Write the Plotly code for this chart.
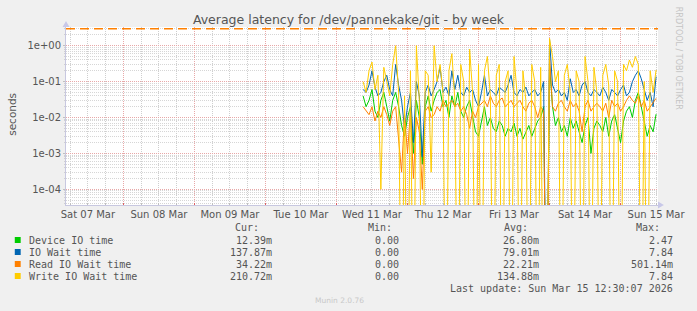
import plotly.graph_objects as go
import pandas as pd

# ---------------- data ----------------
start_time = "2026-03-11 09:00"          # first sample (hourly)
device_io = [0.04, 0.02, 0.03, 0.06, 0.015, 0.01, 0.03, 0.05, 0.02, 0.008,
             0.03, 0.05, 0.02, 0.006, 0.003, 0.01, 0.02, 0.001, 0.03, 0.01,
             0.0005, 0.02, 0.04, 0.015, 0.03, 0.05, 0.06, 0.02, 0.03, 0.01,
             0.04, 0.02, 0.05, 0.015, 0.01, 0.02, 0.03, 0.01, 0.004, 0.003,
             0.008, 0.02, 0.006, 0.01, 0.005, 0.004, 0.008, 0.006, 0.003, 0.005,
             0.004, 0.007, 0.003, 0.005, 0.0025, 0.004, 0.006, 0.003, 0.005, 0.008,
             0.01, 0.02, 0.0, 0.3, 0.02, 0.006, 0.01, 0.004, 0.006, 0.003,
             0.01, 0.005, 0.008, 0.004, 0.002, 0.006, 0.01, 0.001, 0.005, 0.008,
             0.006, 0.004, 0.01, 0.003, 0.008, 0.012, 0.005, 0.002, 0.008, 0.015,
             0.02, 0.01, 0.03, 0.05, 0.02, 0.008, 0.003, 0.006, 0.004, 0.0124]
io_wait = [0.06, 0.05, 0.08, 0.2, 0.07, 0.04, 0.05, 0.1, 0.15, 0.06,
           0.04, 0.3, 0.08, 0.03, 0.005, 0.02, 0.05, 0.002, 0.1, 0.04,
           0.0008, 0.05, 0.08, 0.04, 0.06, 0.1, 0.25, 0.05, 0.07, 0.04,
           0.2, 0.06, 0.15, 0.05, 0.04, 0.07, 0.05, 0.06, 0.03, 0.02,
           0.05, 0.15, 0.04, 0.06, 0.05, 0.04, 0.07, 0.06, 0.05, 0.08,
           0.15, 0.05, 0.04, 0.06, 0.05, 0.07, 0.04, 0.05, 0.06, 0.04,
           0.05, 0.1, 0.0, 1.5, 0.08, 0.05, 0.06, 0.04, 0.05, 0.03,
           0.12, 0.05, 0.06, 0.04, 0.08, 0.1, 0.05, 0.04, 0.06, 0.05,
           0.04, 0.07, 0.05, 0.03, 0.06, 0.05, 0.04, 0.06, 0.08, 0.04,
           0.05, 0.1, 0.15, 0.2, 0.12, 0.06, 0.03, 0.05, 0.02, 0.138]
read_io = [0.02, 0.015, 0.012, 0.02, 0.008, 0.015, 0.01, 0.02, 0.012, 0.006,
           0.015, 0.02, 0.002, 0.0003, 0.012, 0.001, 0.015, 0.0002, 0.01, 0.004,
           0.0001, 0.015, 0.02, 0.01, 0.012, 0.02, 0.015, 0.03, 0.02, 0.025,
           0.03, 0.02, 0.025, 0.015, 0.02, 0.012, 0.005, 0.015, 0.01, 0.02,
           0.025, 0.03, 0.02, 0.04, 0.025, 0.02, 0.03, 0.035, 0.02, 0.025,
           0.03, 0.02, 0.025, 0.03, 0.02, 0.015, 0.025, 0.03, 0.02, 0.01,
           0.02, 0.015, 0.0, 0.5, 0.02, 0.015, 0.025, 0.03, 0.02, 0.015,
           0.03, 0.02, 0.025, 0.015, 0.004, 0.02, 0.03, 0.015, 0.02, 0.025,
           0.02, 0.015, 0.025, 0.01, 0.03, 0.02, 0.025, 0.015, 0.02, 0.03,
           0.04, 0.03, 0.025, 0.04, 0.02, 0.03, 0.015, 0.02, 0.025, 0.0342]
write_io = [0.1, 0.05, 0.2, 0.35, 0.06, 0.15, 0.0001, 0.25, 0.1, 0.04,
            0.3, 1.0, 0.05, 0.0, 0.04, 0.0, 0.2, 0.0, 1.0, 0.03,
            0.0, 0.2, 0.15, 0.0003, 1.0, 0.1, 0.3, 0.05, 0.0, 0.2,
            0.6, 0.03, 0.0, 0.3, 0.1, 0.0, 0.8, 0.05, 0.0, 0.3,
            0.0, 0.2, 0.5, 0.04, 0.0, 0.15, 0.3, 0.0, 0.1, 0.2,
            0.0, 0.5, 0.05, 0.0, 0.2, 0.03, 0.0, 0.3, 0.1, 0.0,
            0.25, 0.0, 0.0, 1.6, 0.5, 0.1, 0.2, 0.0, 0.15, 0.3,
            0.05, 0.0, 0.2, 0.1, 0.0, 0.5, 0.1, 0.0, 0.25, 0.05,
            0.0, 0.15, 0.3, 0.08, 0.0, 0.2, 0.1, 0.0, 0.3, 0.2,
            0.4, 0.25, 0.5, 0.3, 0.0, 0.1, 0.0, 0.2, 0.05, 0.2107]
threshold = 2.95

series_names = ["Device IO time", "IO Wait time", "Read IO Wait time", "Write IO Wait time"]
series_colors = ["#00CC00", "#0066B3", "#FF8000", "#FFCC00"]
cur_text = ["12.39m", "137.87m", "34.22m", "210.72m"]
min_text = ["0.00", "0.00", "0.00", "0.00"]
avg_text = ["26.80m", "79.01m", "22.21m", "134.88m"]
max_text = ["2.47", "7.84", "501.14m", "7.84"]
y_tick_vals = [1, 0.1, 0.01, 0.001, 0.0001]
y_tick_text = ["1e+00", "1e-01", "1e-02", "1e-03", "1e-04"]
x_range = ["2026-03-07 04:36", "2026-03-15 12:39"]
title = "Average latency for /dev/pannekake/git - by week"
last_update = "Last update: Sun Mar 15 12:30:07 2026"

# ---------------- figure ----------------
W, H = 697, 311
L, R, T, B = 66, 30, 27, 106
PW, PH = W - L - R, H - T - B

def px(x):
    return (x - L) / PW

def py(y):
    return (H - B - y) / PH

times = pd.date_range(start_time, periods=len(device_io), freq="h")
FLOOR = 1e-9  # zero values drop to bottom of log axis (clipped)

fig = go.Figure()
for name, col, vals in zip(series_names, series_colors,
                           [device_io, io_wait, read_io, write_io]):
    fig.add_trace(go.Scatter(
        x=times, y=[v if v > 0 else FLOOR for v in vals], mode="lines",
        line=dict(color=col, width=1), name=name, showlegend=False,
        hoverinfo="skip"))

# threshold dashed line
fig.add_trace(go.Scatter(x=x_range, y=[threshold, threshold], mode="lines",
                         line=dict(color="#FF8000", width=1.6, dash="9px,5px"),
                         showlegend=False, hoverinfo="skip"))

minor_y = [k * 10 ** e for e in range(-5, 1) for k in range(2, 10)]

fig.update_layout(
    width=W, height=H,
    margin=dict(l=L, r=R, t=T, b=B),
    paper_bgcolor="#F0F0F0", plot_bgcolor="#FFFFFF",
    font=dict(family="DejaVu Sans", size=10, color="#555555"),
    title=dict(text=title, x=0.5, xref="container", xanchor="center",
               y=1 - 19.5 / H, yref="container", yanchor="middle",
               font=dict(family="DejaVu Sans", size=12.5, color="#555555")),
    showlegend=False,
    xaxis=dict(type="date", range=x_range, dtick=86400000,
               tick0="2026-03-07 00:00", tickformat="%a %d %b",
               ticklabelmode="period", showgrid=True, gridcolor="#E8A8A8",
               griddash="1px,1px", gridwidth=1, ticks="inside", ticklen=2,
               tickcolor="#E06060", showline=True, linecolor="#C8C8E0",
               zeroline=False, tickfont=dict(size=10, color="#555555"),
               minor=dict(dtick=6 * 3600000, showgrid=True, gridcolor="#CFCFCF",
                          griddash="1px,1px", ticks="inside", ticklen=2,
                          tickcolor="#C0C0C0")),
    yaxis=dict(type="log", range=[-4.436, 0.52], tickvals=y_tick_vals,
               ticktext=y_tick_text, showgrid=True, gridcolor="#E8A8A8",
               griddash="1px,1px", ticks="outside", ticklen=2,
               tickcolor="#C0C0C0", showline=True, linecolor="#C8C8E0",
               zeroline=False, tickfont=dict(size=10, color="#555555"),
               minor=dict(tickvals=minor_y, showgrid=True, gridcolor="#D6D6D6",
                          griddash="1px,1px", ticks="outside", ticklen=1,
                          tickcolor="#D0D0D0")),
)

ann = []
mono = dict(family="DejaVu Sans Mono", size=10, color="#555555")
# y axis label
ann.append(dict(text="seconds", x=px(11), y=py(114), xref="paper", yref="paper",
                showarrow=False, textangle=-90, xanchor="center", yanchor="middle",
                font=dict(family="DejaVu Sans", size=10.5, color="#555555")))
# right vertical credit
ann.append(dict(text="RRDTOOL / TOBI OETIKER", x=px(688), y=py(5), xref="paper",
                yref="paper", showarrow=False, textangle=90, xanchor="center",
                yanchor="top", font=dict(family="DejaVu Sans", size=8, color="#C4C4C4")))
# headers
for txt, xr in [("Cur:", 264), ("Min:", 399), ("Avg:", 537), ("Max:", 671)]:
    ann.append(dict(text=txt, x=px(xr), y=py(227.5), xref="paper", yref="paper",
                    showarrow=False, xanchor="right", yanchor="middle", font=mono))
row_y = [240, 252, 264, 276]
for i, name in enumerate(series_names):
    yy = py(row_y[i])
    ann.append(dict(text=name, x=px(26), y=yy, xref="paper", yref="paper",
                    showarrow=False, xanchor="left", yanchor="middle", font=mono))
    for txt, xr in [(cur_text[i], 277), (min_text[i], 406),
                    (avg_text[i], 548), (max_text[i], 684)]:
        ann.append(dict(text=txt, x=px(xr), y=yy, xref="paper", yref="paper",
                        showarrow=False, xanchor="right", yanchor="middle", font=mono))
ann.append(dict(text=last_update, x=px(684), y=py(288), xref="paper", yref="paper",
                showarrow=False, xanchor="right", yanchor="middle", font=mono))
ann.append(dict(text="Munin 2.0.76", x=px(344), y=py(300.5), xref="paper", yref="paper",
                showarrow=False, xanchor="center", yanchor="middle",
                font=dict(family="DejaVu Sans", size=7.5, color="#C8C8C8")))
fig.update_layout(annotations=ann)

shapes = []
for i, col in enumerate(series_colors):
    shapes.append(dict(type="rect", xref="paper", yref="paper",
                       x0=px(14), x1=px(20), y0=py(row_y[i] + 3), y1=py(row_y[i] - 3),
                       fillcolor=col, line=dict(width=0)))
# axis arrows
shapes.append(dict(type="path", xref="paper", yref="paper",
                   path=f"M {px(62.5)} {py(27)} L {px(69.5)} {py(27)} L {px(66)} {py(21)} Z",
                   fillcolor="#C8C8E8", line=dict(width=0)))
shapes.append(dict(type="path", xref="paper", yref="paper",
                   path=f"M {px(667)} {py(201.5)} L {px(667)} {py(208.5)} L {px(673)} {py(205)} Z",
                   fillcolor="#C8C8E8", line=dict(width=0)))
fig.update_layout(shapes=shapes)

fig.write_html("out.html")
